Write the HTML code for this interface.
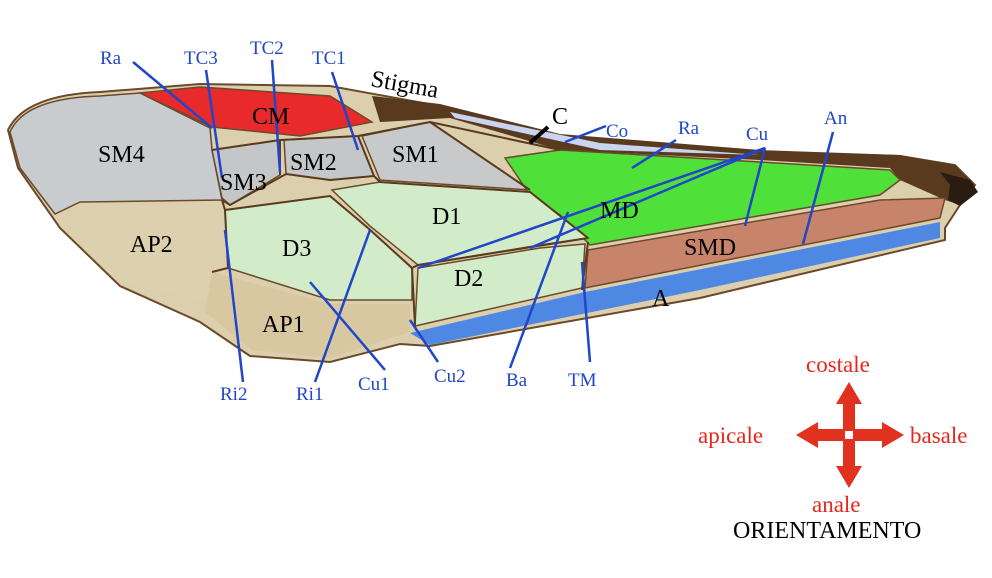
<!DOCTYPE html>
<html><head><meta charset="utf-8"><style>
html,body{margin:0;padding:0;background:#fff;}
svg{display:block;}
text{font-family:"Liberation Serif",serif;}
.b{fill:#2146c8;font-size:19px;}
.k{fill:#000;font-size:24px;}
.r{fill:#e8261e;font-size:23px;}
.l{stroke:#2146c8;stroke-width:2.5;fill:none;}
.v{stroke:#5a3a1e;stroke-width:2;}
.rg{stroke:#6b4a2a;stroke-width:1.5;}
</style></head><body>
<svg width="992" height="578" viewBox="0 0 992 578">
<!-- wing base -->
<path d="M8,130 Q25,95 100,92 L200,84 L330,86 L440,106 L560,136 L760,152 L900,156 L955,165 L975,185 L960,205 L945,228 L945,240 L700,298 L430,346 L400,344 L330,362 L250,356 L200,322 L120,286 L60,228 L18,168 Z" fill="#dccfae" stroke="#6b4a2a" stroke-width="2"/>
<!-- costal dark band -->
<path d="M372,96 L440,104 L560,134 L760,150 L900,155 L955,165 L975,185 L960,205 L945,200 L900,180 L890,168 L760,160 L560,150 L450,118 L380,122 Z" fill="#5a3a1e"/>
<path d="M940,172 L970,180 L978,192 L960,206 L948,200 L950,185 Z" fill="#2a1c10"/>
<!-- SM4 -->
<path d="M10,132 Q25,98 100,96 L140,93 L210,128 L212,150 L222,200 L80,202 L55,214 L20,168 Z" fill="#c9cccf" class="rg"/>
<!-- CM -->
<path d="M140,93 L200,87 L330,96 L372,122 L300,136 L212,127 Z" fill="#e82a2a" class="rg"/>
<!-- SM3 -->
<path d="M212,150 L280,140 L280,175 L230,205 L222,198 Z" fill="#c4c6c8" class="rg"/>
<!-- SM2 -->
<path d="M284,140 L358,136 L374,176 L330,180 L286,174 Z" fill="#c4c6c8" class="rg"/>
<!-- SM1 -->
<path d="M362,136 L430,122 L530,190 L380,180 Z" fill="#c8c9ca" class="rg"/>
<!-- Co strip -->
<path d="M450,112 L600,143 L760,155 L600,150 L455,118 Z" fill="#c8d4f0"/>
<!-- MD -->
<path d="M505,158 L560,150 L760,162 L890,170 L900,180 L880,195 L590,245 L560,215 L530,195 Z" fill="#4fe03a" class="rg"/>
<!-- SMD -->
<path d="M588,250 L880,200 L945,198 L940,218 L585,288 Z" fill="#c8846a" class="rg"/>
<!-- A -->
<path d="M410,333 L585,292 L940,222 L940,238 L700,290 L430,345 Z" fill="#4f88e2"/>
<!-- D1 -->
<path d="M332,190 L380,182 L530,192 L588,238 L540,245 L418,265 L370,226 Z" fill="#d2ebc8" class="rg"/>
<!-- D3 -->
<path d="M225,210 L330,196 L368,228 L412,268 L412,300 L330,300 L228,268 Z" fill="#d2ebc8" class="rg"/>
<!-- D2 -->
<path d="M418,268 L540,248 L585,244 L582,288 L415,326 Z" fill="#d2ebc8" class="rg"/>
<!-- AP2 -->
<path d="M80,204 L220,207 L228,262 L205,300 L120,283 L60,225 Z" fill="#ddd0ae"/>
<!-- AP1 -->
<path d="M212,272 L330,304 L410,304 L410,332 L330,358 L252,350 L205,312 Z" fill="#d8c8a2"/>
<!-- veins -->
<g class="v" fill="none">
<path d="M212,150 L280,140 L358,136 L430,122 L560,150"/>
<path d="M280,140 L280,175 M358,136 L374,176 M430,122 L530,190"/>
<path d="M222,200 L230,205 L286,174 L330,180 L374,176 L380,182 L530,192 L588,238"/>
<path d="M222,200 L225,210 L228,268 L212,272 M225,210 L330,196 L368,228 L412,268 L418,265 L588,238"/>
<path d="M412,268 L415,326 M588,242 L582,290"/>
</g>
<!-- label lines -->
<g class="l">
<line x1="133" y1="62" x2="212" y2="128"/>
<line x1="206" y1="70" x2="222" y2="178"/>
<line x1="272" y1="60" x2="280" y2="172"/>
<line x1="332" y1="72" x2="358" y2="150"/>
<line x1="565" y1="142" x2="606" y2="126"/>
<line x1="632" y1="168" x2="676" y2="140"/>
<line x1="418" y1="268" x2="765" y2="148"/>
<line x1="530" y1="248" x2="765" y2="148"/>
<line x1="745" y1="226" x2="765" y2="148"/>
<line x1="803" y1="244" x2="833" y2="132"/>
<line x1="225" y1="230" x2="243" y2="382"/>
<line x1="315" y1="382" x2="370" y2="230"/>
<line x1="310" y1="282" x2="385" y2="370"/>
<line x1="410" y1="320" x2="438" y2="362"/>
<line x1="568" y1="212" x2="510" y2="368"/>
<line x1="582" y1="262" x2="590" y2="362"/>
</g>
<line x1="530" y1="143" x2="548" y2="127" stroke="#000" stroke-width="4"/>
<!-- labels -->
<text class="b" x="100" y="64">Ra</text>
<text class="b" x="184" y="64">TC3</text>
<text class="b" x="250" y="54">TC2</text>
<text class="b" x="312" y="64">TC1</text>
<text class="b" x="606" y="137">Co</text>
<text class="b" x="678" y="134">Ra</text>
<text class="b" x="746" y="140">Cu</text>
<text class="b" x="824" y="124">An</text>
<text class="b" x="220" y="400">Ri2</text>
<text class="b" x="296" y="400">Ri1</text>
<text class="b" x="358" y="390">Cu1</text>
<text class="b" x="434" y="382">Cu2</text>
<text class="b" x="506" y="386">Ba</text>
<text class="b" x="568" y="386">TM</text>
<text class="k" x="370" y="86" transform="rotate(10 370 86)">Stigma</text>
<text class="k" x="552" y="124">C</text>
<text class="k" x="252" y="124">CM</text>
<text class="k" x="98" y="162">SM4</text>
<text class="k" x="220" y="190">SM3</text>
<text class="k" x="290" y="170">SM2</text>
<text class="k" x="392" y="162">SM1</text>
<text class="k" x="432" y="224">D1</text>
<text class="k" x="282" y="256">D3</text>
<text class="k" x="454" y="286">D2</text>
<text class="k" x="130" y="252">AP2</text>
<text class="k" x="262" y="332">AP1</text>
<text class="k" x="600" y="218">MD</text>
<text class="k" x="684" y="255">SMD</text>
<text class="k" x="652" y="306">A</text>
<!-- orientation -->
<g fill="#e0321e">
<rect x="843" y="400" width="12" height="70"/>
<rect x="815" y="429" width="70" height="12"/>
<polygon points="849,382 862,404 836,404"/>
<polygon points="849,488 862,466 836,466"/>
<polygon points="796,435 818,422 818,448"/>
<polygon points="904,435 882,422 882,448"/>
</g>
<rect x="845" y="431" width="8" height="8" fill="#fff"/>
<text class="r" x="806" y="372">costale</text>
<text class="r" x="698" y="443">apicale</text>
<text class="r" x="910" y="443">basale</text>
<text class="r" x="812" y="512">anale</text>
<text class="k" x="733" y="538">ORIENTAMENTO</text>
</svg>
</body></html>
